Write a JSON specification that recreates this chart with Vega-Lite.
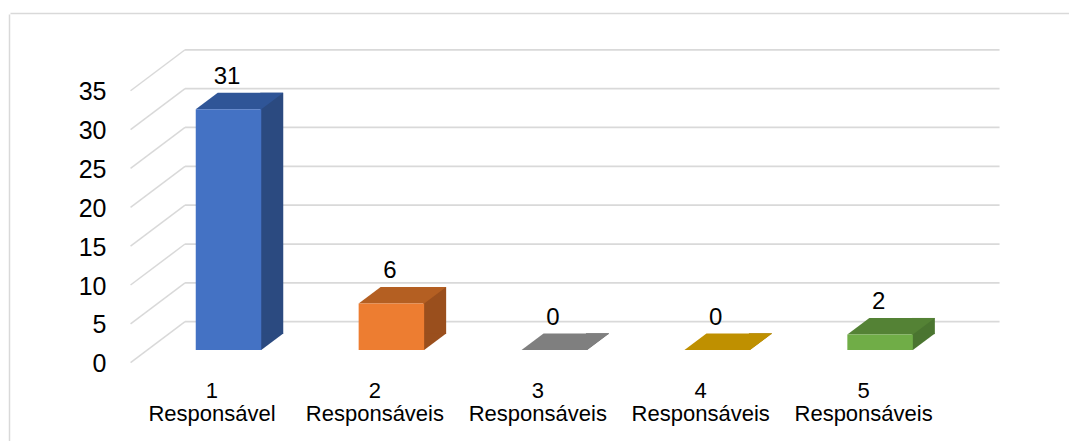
{
  "$schema": "https://vega.github.io/schema/vega-lite/v6.json",
  "width": 1059,
  "height": 427,
  "padding": {"left": 10, "top": 14, "right": 0, "bottom": 0},
  "autosize": {"type": "none"},
  "background": "white",
  "config": {"view": {"stroke": null}, "font": "Liberation Sans"},
  "datasets": {
    "bars": [
      {"cat": 1, "label": "1 Responsável", "value": 31},
      {"cat": 2, "label": "2 Responsáveis", "value": 6},
      {"cat": 3, "label": "3 Responsáveis", "value": 0},
      {"cat": 4, "label": "4 Responsáveis", "value": 0},
      {"cat": 5, "label": "5 Responsáveis", "value": 2}
    ],
    "ticks": [{"v": 0}, {"v": 5}, {"v": 10}, {"v": 15}, {"v": 20}, {"v": 25}, {"v": 30}, {"v": 35}]
  },
  "resolve": {"scale": {"color": "independent"}},
  "layer": [
    {
      "data": {"name": "ticks"},
      "mark": {"type": "rule", "color": "#d9d9d9", "strokeWidth": 1.75, "xOffset": 54.5, "x2Offset": 54.5, "yOffset": -41},
      "encoding": {
        "x": {"datum": 0.5, "type": "quantitative", "scale": {"domain": [-0.24, 6.2609], "nice": false, "zero": false},
          "axis": {"orient": "top", "offset": 1, "domain": true, "domainColor": "#d9d9d9", "domainWidth": 1.5, "labels": false, "ticks": false, "grid": false, "title": null}},
        "x2": {"datum": 5.5},
        "y": {"field": "v", "type": "quantitative", "scale": {"domain": [-10.077, 44.878], "nice": false, "zero": false},
          "axis": {"orient": "left", "offset": 1, "values": [0, 5, 10, 15, 20, 25, 30, 35], "domain": true, "domainColor": "#d9d9d9", "domainWidth": 1.5, "ticks": false, "tickSize": 0, "labelPadding": -97, "labelAlign": "right", "labelBaseline": "middle", "labelOffset": 1, "labelFontSize": 25, "labelFont": "Liberation Sans", "labelColor": "#000000", "labelOverlap": false, "labelFlush": false, "grid": false, "title": null}}
      }
    },
    {
      "data": {"name": "ticks"},
      "mark": {"type": "rule", "color": "#d9d9d9", "strokeWidth": 1.5, "x2Offset": 54.5, "y2Offset": -41},
      "encoding": {
        "x": {"datum": 0.5, "type": "quantitative", "scale": {"domain": [-0.24, 6.2609], "nice": false, "zero": false}},
        "x2": {"datum": 0.5},
        "y": {"field": "v", "type": "quantitative", "scale": {"domain": [-10.077, 44.878], "nice": false, "zero": false}},
        "y2": {"field": "v"}
      }
    },
    {
      "data": {"name": "bars"},
      "mark": {"type": "bar", "xOffset": 48.25, "x2Offset": 71.25, "yOffset": -29.2, "y2Offset": -28.6},
      "encoding": {
        "x": {"field": "cat", "type": "quantitative", "scale": {"domain": [-0.24, 6.2609], "nice": false, "zero": false}},
        "x2": {"field": "cat"},
        "y": {"field": "value", "type": "quantitative", "scale": {"domain": [-10.077, 44.878], "nice": false, "zero": false}},
        "y2": {"datum": 0},
        "color": {"field": "cat", "type": "nominal", "scale": {"domain": [1, 2, 3, 4, 5], "range": ["#2B4A80", "#9A4F1D", "#6B6B6B", "#A07800", "#4A7530"]}, "legend": null}
      }
    },
    {
      "data": {"name": "bars"},
      "mark": {"type": "point", "shape": "M-1.1,0.75L-1,0.75L1,-0.75L-1.1,-0.75Z", "size": 484, "filled": true, "opacity": 1, "strokeWidth": 0, "xOffset": 60.25, "yOffset": -20.95},
      "encoding": {
        "x": {"field": "cat", "type": "quantitative", "scale": {"domain": [-0.24, 6.2609], "nice": false, "zero": false}},
        "y": {"datum": 0, "type": "quantitative", "scale": {"domain": [-10.077, 44.878], "nice": false, "zero": false}},
        "color": {"field": "cat", "type": "nominal", "scale": {"domain": [1, 2, 3, 4, 5], "range": ["#2B4A80", "#9A4F1D", "#6B6B6B", "#A07800", "#4A7530"]}, "legend": null}
      }
    },
    {
      "data": {"name": "bars"},
      "mark": {"type": "point", "shape": "M-1,0.18857L0.49714,0.18857L1,-0.18857L-0.49714,-0.18857Z", "size": 7656.25, "filled": true, "opacity": 1, "strokeWidth": 0, "xOffset": 27.5, "yOffset": -20.95},
      "encoding": {
        "x": {"field": "cat", "type": "quantitative", "scale": {"domain": [-0.24, 6.2609], "nice": false, "zero": false}},
        "y": {"field": "value", "type": "quantitative", "scale": {"domain": [-10.077, 44.878], "nice": false, "zero": false}},
        "color": {"field": "cat", "type": "nominal", "scale": {"domain": [1, 2, 3, 4, 5], "range": ["#2F5597", "#B45F22", "#7F7F7F", "#BF9000", "#548235"]}, "legend": null}
      }
    },
    {
      "data": {"name": "bars"},
      "mark": {"type": "bar", "xOffset": -16.25, "x2Offset": 49.25, "yOffset": -12.7, "y2Offset": -12.7},
      "encoding": {
        "x": {"field": "cat", "type": "quantitative", "scale": {"domain": [-0.24, 6.2609], "nice": false, "zero": false}},
        "x2": {"field": "cat"},
        "y": {"field": "value", "type": "quantitative", "scale": {"domain": [-10.077, 44.878], "nice": false, "zero": false}},
        "y2": {"datum": 0},
        "color": {"field": "cat", "type": "nominal", "scale": {"domain": [1, 2, 3, 4, 5], "range": ["#4472C4", "#ED7D31", "#A5A5A5", "#FFC000", "#70AD47"]}, "legend": null}
      }
    },
    {
      "data": {"name": "bars"},
      "mark": {"type": "text", "font": "Liberation Sans", "fontSize": 24, "color": "#000000", "align": "center", "baseline": "alphabetic", "xOffset": 15, "yOffset": -38.2},
      "encoding": {
        "x": {"field": "cat", "type": "quantitative", "scale": {"domain": [-0.24, 6.2609], "nice": false, "zero": false}},
        "y": {"field": "value", "type": "quantitative", "scale": {"domain": [-10.077, 44.878], "nice": false, "zero": false}},
        "text": {"field": "value", "type": "quantitative"}
      }
    },
    {
      "data": {"name": "bars"},
      "mark": {"type": "text", "font": "Liberation Sans", "fontSize": 22, "color": "#000000", "align": "center", "baseline": "alphabetic", "lineBreak": " ", "lineHeight": 23, "yOffset": 35.6},
      "encoding": {
        "x": {"field": "cat", "type": "quantitative", "scale": {"domain": [-0.24, 6.2609], "nice": false, "zero": false}},
        "y": {"datum": 0, "type": "quantitative", "scale": {"domain": [-10.077, 44.878], "nice": false, "zero": false}},
        "text": {"field": "label", "type": "nominal"}
      }
    }
  ]
}
